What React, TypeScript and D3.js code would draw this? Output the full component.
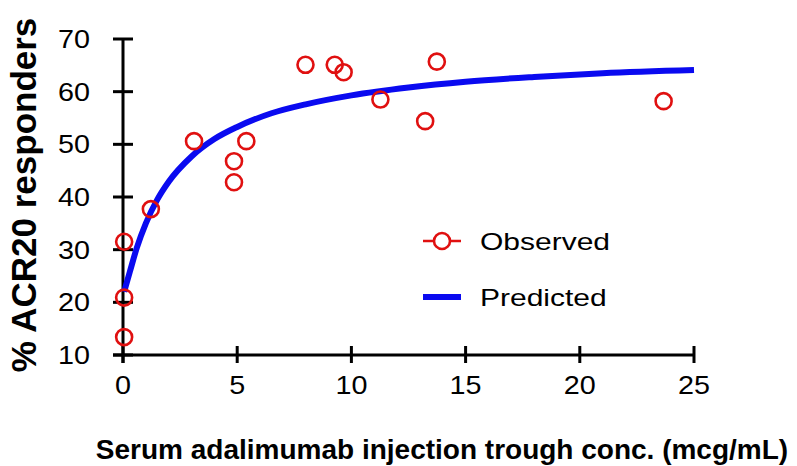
import React from "react";
import * as d3 from "d3";

const obsX = [0.05, 0.05, 0.05, 1.22, 3.11, 4.86, 4.86, 5.4, 7.99, 9.27, 9.66, 11.27, 13.23, 13.74, 23.67];
const obsY = [31.5, 20.9, 13.4, 37.7, 50.6, 46.8, 42.8, 50.6, 65.1, 65.1, 63.7, 58.5, 54.4, 65.7, 58.2];

const predX = [0.05, 0.3, 0.6, 1.0, 1.5, 2.0, 3.0, 4.0, 5.0, 6.5, 8.0, 10, 12.5, 15, 18, 21, 25];
const predY = [22.0, 25.8, 30.3, 35.0, 39.5, 42.9, 47.7, 51.0, 53.3, 55.9, 57.6, 59.3, 60.8, 61.9, 62.8, 63.5, 64.1];

const xTicks = [0, 5, 10, 15, 20, 25];
const yTicks = [10, 20, 30, 40, 50, 60, 70];

const xLabel = "Serum adalimumab injection trough conc. (mcg/mL)";
const yLabel = "% ACR20 responders";
const legendLabels = ["Observed", "Predicted"];

const RED = "#e01010";
const BLUE = "#0a0af0";
const FONT = "'Liberation Sans', Arial, Helvetica, sans-serif";

export default function App() {
  const W = 797;
  const H = 466;
  const x = d3.scaleLinear().domain([0, 25]).range([123, 694]);
  const y = d3.scaleLinear().domain([10, 70]).range([355, 39]);

  const pred = predX.map((v, i) => [v, predY[i]] as [number, number]);
  const line = d3
    .line<[number, number]>()
    .x((d) => x(d[0]))
    .y((d) => y(d[1]))
    .curve(d3.curveMonotoneX);

  return (
    <svg
      width={W}
      height={H}
      style={{ position: "absolute", left: 0, top: 0, background: "#fff" }}
      fontFamily={FONT}
    >
      <rect x={0} y={0} width={W} height={H} fill="#fff" />
      {/* axes */}
      <line x1={x(0)} x2={x(0)} y1={y(70)} y2={y(10) + 8} stroke="#000" strokeWidth={3} />
      <line x1={x(0) - 10} x2={x(25)} y1={y(10)} y2={y(10)} stroke="#000" strokeWidth={3} />
      {yTicks.map((t) => (
        <g key={"yt" + t}>
          <line x1={x(0) - 10} x2={x(0) + 10} y1={y(t)} y2={y(t)} stroke="#000" strokeWidth={3} />
          <text
            transform={`translate(${x(0) - 33},${y(t) + 9}) scale(1.15,1)`}
            textAnchor="end"
            fontSize={25}
            fill="#000"
          >
            {t}
          </text>
        </g>
      ))}
      {xTicks.map((t) => (
        <g key={"xt" + t}>
          <line x1={x(t)} x2={x(t)} y1={y(10) - 9} y2={y(10) + 8} stroke="#000" strokeWidth={3} />
          <text
            transform={`translate(${x(t)},${394}) scale(1.15,1)`}
            textAnchor="middle"
            fontSize={25}
            fill="#000"
          >
            {t}
          </text>
        </g>
      ))}
      {/* predicted curve */}
      <path d={line(pred) || ""} fill="none" stroke={BLUE} strokeWidth={6} />
      {/* observed */}
      {obsX.map((v, i) => (
        <circle key={"o" + i} cx={x(v)} cy={y(obsY[i])} r={8} fill="none" stroke={RED} strokeWidth={2.6} />
      ))}
      {/* legend */}
      <line x1={423} x2={461} y1={241} y2={241} stroke={RED} strokeWidth={2.6} />
      <circle cx={442} cy={241} r={8} fill="#fff" stroke={RED} strokeWidth={2.6} />
      <text transform={`translate(480,250) scale(1.25,1)`} fontSize={24} fill="#000">
        {legendLabels[0]}
      </text>
      <line x1={423} x2={461} y1={297} y2={297} stroke={BLUE} strokeWidth={6} />
      <text transform={`translate(480,306) scale(1.25,1)`} fontSize={24} fill="#000">
        {legendLabels[1]}
      </text>
      {/* axis titles */}
      <text x={442} y={459} textAnchor="middle" fontSize={28} fontWeight="bold" fill="#000">
        {xLabel}
      </text>
      <text
        transform={`translate(36,195) rotate(-90)`}
        textAnchor="middle"
        fontSize={35}
        fontWeight="bold"
        fill="#000"
      >
        {yLabel}
      </text>
    </svg>
  );
}
